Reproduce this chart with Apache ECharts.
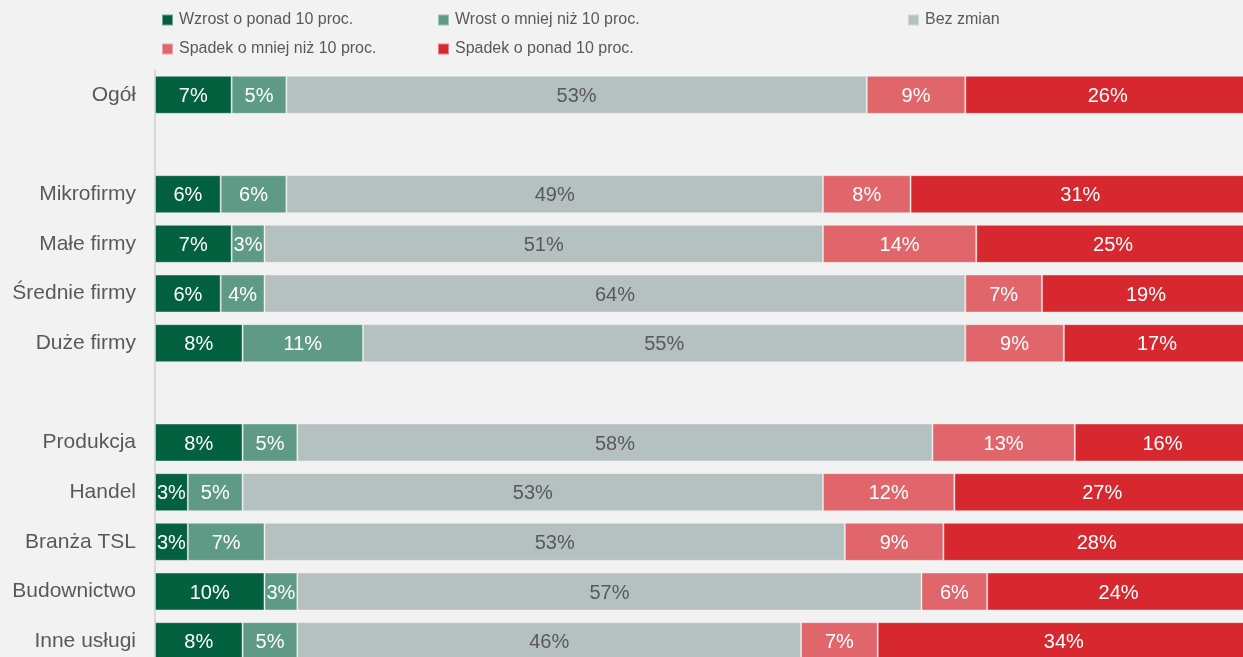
<!DOCTYPE html>
<html>
<head>
<meta charset="utf-8">
<script src="https://cdn.jsdelivr.net/npm/echarts@6/dist/echarts.min.js"></script>
<style>
html,body{margin:0;padding:0;background:#f2f2f2;overflow:hidden;}
#main{width:1250px;height:667px;}
</style>
</head>
<body>
<div id="main"></div>
<script>
const categories = ['Ogół', ' ', 'Mikrofirmy', 'Małe firmy', 'Średnie firmy', 'Duże firmy', '  ', 'Produkcja', 'Handel', 'Branża TSL', 'Budownictwo', 'Inne usługi'];
const seriesNames = ['Wzrost o ponad 10 proc.', 'Wrost o mniej niż 10 proc.', 'Bez zmian', 'Spadek o mniej niż 10 proc.', 'Spadek o ponad 10 proc.'];
const wzrostPonad10 = [7, null, 6, 7, 6, 8, null, 8, 3, 3, 10, 8];
const wzrostMniej10 = [5, null, 6, 3, 4, 11, null, 5, 5, 7, 3, 5];
const bezZmian = [53, null, 49, 51, 64, 55, null, 58, 53, 53, 57, 46];
const spadekMniej10 = [9, null, 8, 14, 7, 9, null, 13, 12, 9, 6, 7];
const spadekPonad10 = [26, null, 31, 25, 19, 17, null, 16, 27, 28, 24, 34];

const seriesData = [wzrostPonad10, wzrostMniej10, bezZmian, spadekMniej10, spadekPonad10];
const colors = ['#046140', '#5f9a86', '#b5c0c1', '#e0666b', '#d72830'];
const labelColors = ['#ffffff', '#ffffff', '#595959', '#ffffff', '#ffffff'];

const legendPos = [
  {left: 161, top: 12}, {left: 437, top: 12}, {left: 907, top: 12},
  {left: 161, top: 41}, {left: 437, top: 41}
];

const chart = echarts.init(document.getElementById('main'), null, {renderer: 'canvas'});
chart.setOption({
  backgroundColor: '#f2f2f2',
  animation: false,
  color: colors,
  legend: seriesNames.map((n, i) => ({
    data: [n],
    left: legendPos[i].left,
    top: legendPos[i].top,
    itemWidth: 11,
    itemHeight: 11,
    itemGap: 0,
    icon: 'rect',
    selectedMode: false,
    padding: 0,
    textStyle: {color: '#595959', fontSize: 16, padding: [0, 0, 0, 1], fontFamily: 'Liberation Sans, Arial, sans-serif'}
  })),
  grid: {left: 155, right: 0, top: 70, bottom: 1, containLabel: false},
  xAxis: {
    type: 'value', min: 0, max: 100,
    show: false
  },
  yAxis: {
    type: 'category',
    data: categories,
    inverse: true,
    axisLine: {show: true, lineStyle: {color: '#d9d9d9', width: 2}},
    axisTick: {show: false},
    axisLabel: {color: '#595959', fontSize: 21, margin: 19, padding: [5, 0, 0, 0], fontFamily: 'Liberation Sans, Arial, sans-serif'}
  },
  series: seriesNames.map((n, i) => ({
    name: n,
    type: 'bar',
    stack: 'total',
    barWidth: 38,
    data: seriesData[i],
    itemStyle: {color: colors[i], borderColor: 'rgba(242,242,242,0.45)', borderWidth: 1},
    label: {
      show: true,
      position: 'inside',
      offset: [0, 1.5],
      formatter: p => (p.value == null ? '' : p.value + '%'),
      color: labelColors[i],
      fontSize: 20,
      fontFamily: 'Liberation Sans, Arial, sans-serif'
    }
  }))
});
</script>
</body>
</html>
